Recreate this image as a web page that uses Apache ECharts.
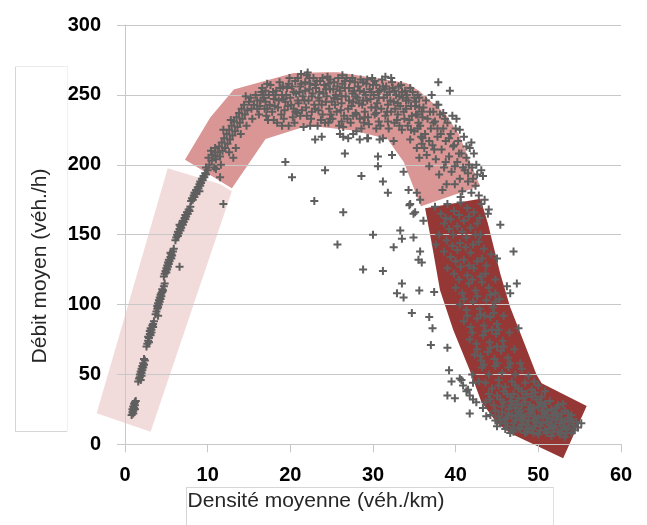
<!DOCTYPE html>
<html>
<head>
<meta charset="utf-8">
<script src="https://cdn.jsdelivr.net/npm/echarts@6/dist/echarts.min.js"></script>
<style>
  html, body { margin: 0; padding: 0; background: #fff; }
  #chart { width: 647px; height: 525px; }
</style>
</head>
<body>
<div id="chart"></div>
<script>
// axis ticks
const xTicks = [0, 10, 20, 30, 40, 50, 60]
const yTicks = [0, 50, 100, 150, 200, 250, 300]

// shaded regimes (density, flow) corners
const freeBand = [[5.17, 197.5], [13.06, 183.4], [3.1, 9.0], [-3.43, 22.2]]
const capacityBand = [
  [7.05, 203.4], [10.2, 234.4], [13.1, 254.7], [20.36, 266.6], [25.6, 267.3],
  [34.08, 259.4], [35.7, 253.5], [38.9, 236.8], [40.5, 222.5], [43.15, 184.3],
  [35.7, 169.1], [33.6, 201.3], [31.66, 217.7], [27.6, 223.7], [23.6, 226.1],
  [21.6, 226.1], [17.1, 217.7], [12.98, 181.9]
]
const congestedBand = [
  [36.3, 168.8], [43.0, 175.6], [43.9, 158], [45.4, 122], [46.6, 98], [48.0, 77],
  [49.8, 49.6], [50.4, 43.6], [55.85, 27.4], [53.0, -10], [46.6, 7.9], [45.0, 15],
  [43.1, 30.5], [41.7, 53], [39.7, 82], [38.1, 110.4], [37.1, 143.8]
]

// measurements
const freeFlow = [
  [0.8, 21], [0.9, 23], [0.9, 25], [1.0, 24], [1.0, 27], [1.1, 26], [1.1, 29], [1.2, 28], [1.2, 30], [1.3, 31], [1.0, 22], [1.2, 25],
  [1.6, 45], [1.7, 47], [1.8, 48], [1.8, 50], [1.9, 52], [2.0, 51], [2.0, 54], [2.1, 53], [2.1, 56], [2.2, 55], [2.2, 58], [2.3, 57], [2.4, 60], [2.0, 49], [1.9, 46], [2.3, 61],
  [2.6, 70], [2.7, 72], [2.8, 74], [2.8, 77], [2.9, 76], [3.0, 79], [3.0, 81], [3.1, 78], [3.1, 83], [3.2, 82], [3.3, 85], [3.4, 86], [3.5, 88], [2.9, 73], [3.2, 80], [3.4, 84],
  [3.7, 93], [3.8, 95], [3.9, 97], [3.9, 99], [4.0, 98], [4.0, 101], [4.1, 100], [4.1, 103], [4.2, 102], [4.2, 105], [4.3, 104], [4.3, 107], [4.4, 106], [4.5, 109], [4.5, 111], [4.6, 110], [4.7, 113], [4.8, 115], [4.0, 92], [4.4, 108],
  [4.7, 120], [4.8, 122], [4.9, 124], [5.0, 123], [5.0, 126], [5.1, 125], [5.1, 128], [5.2, 127], [5.2, 130], [5.3, 129], [5.3, 132], [5.4, 131], [5.5, 134], [5.6, 133], [5.6, 136], [5.7, 135], [5.8, 138], [5.9, 140], [5.5, 137], [6.6, 127],
  [6.1, 146], [6.2, 148], [6.3, 150], [6.4, 149], [6.4, 152], [6.5, 151], [6.6, 154], [6.7, 153], [6.7, 156], [6.8, 155], [6.9, 158], [7.0, 157], [7.0, 160], [7.1, 159], [7.2, 162], [7.3, 161], [7.3, 164], [7.4, 163], [7.5, 166], [7.6, 165], [7.7, 168], [7.8, 167], [7.9, 170], [6.6, 157],
  [8.0, 174], [8.1, 176], [8.2, 175], [8.3, 178], [8.4, 177], [8.5, 180], [8.6, 179], [8.6, 182], [8.7, 181], [8.8, 184], [8.9, 183], [9.0, 186], [9.1, 185], [9.1, 188], [9.2, 187], [9.3, 190], [9.4, 189], [9.5, 192], [9.6, 191], [9.7, 194], [9.8, 193], [10.0, 196], [9.0, 181], [8.4, 180],
  [11.9, 172]
]
const rising = [
  [9.8, 198], [10.2, 200], [10.5, 203], [10.1, 205], [10.8, 198], [10.6, 207], [11.0, 204], [11.2, 209], [10.9, 212], [11.5, 206], [11.4, 213], [11.8, 210], [11.7, 216], [12.1, 212],
  [12.0, 219], [12.4, 215], [12.3, 222], [12.7, 218], [12.6, 225], [13.0, 221], [12.9, 228], [13.3, 224], [13.2, 231], [13.6, 227], [13.5, 234], [13.9, 230], [13.8, 237], [14.2, 233],
  [14.1, 240], [14.5, 236], [14.4, 243], [14.8, 239], [15.0, 245], [15.3, 240], [15.2, 248], [15.6, 243], [15.8, 250], [16.0, 246], [16.3, 242], [16.5, 252], [11.0, 197], [11.6, 200],
  [12.6, 209], [13.4, 212], [14.0, 222], [14.7, 228], [15.4, 233], [13.1, 205], [10.4, 210], [11.9, 225], [12.8, 232], [14.6, 249], [16.8, 248], [17.2, 240], [17.0, 253], [11.5, 191], [10.9, 206]
]
const crown = [
  [16.2, 236], [16.6, 255], [17.0, 245], [17.4, 250], [17.8, 238], [17.6, 257], [18.0, 247], [16.9, 240], [17.3, 232], [18.3, 253],
  [18.5, 241], [18.7, 259], [19.0, 250], [19.2, 233], [19.4, 245], [19.6, 255], [19.8, 228], [19.9, 262], [18.9, 236], [19.3, 239], [20.0, 248], [18.4, 230],
  [20.2, 256], [20.4, 240], [20.5, 230], [20.7, 251], [20.9, 262], [21.0, 244], [21.2, 235], [21.3, 258], [21.5, 249], [21.6, 227], [21.8, 253], [22.0, 264], [20.8, 237], [21.9, 241], [22.1, 266],
  [22.2, 246], [22.4, 258], [22.5, 233], [22.7, 251], [22.8, 262], [23.0, 240], [23.1, 255], [23.3, 228], [23.4, 248], [23.6, 260], [23.8, 243], [23.9, 236], [22.6, 238], [23.5, 252],
  [24.1, 257], [24.2, 230], [24.4, 249], [24.5, 263], [24.7, 240], [24.8, 254], [25.0, 245], [25.1, 233], [25.3, 259], [25.5, 250], [25.6, 238], [25.8, 262], [25.9, 228], [24.9, 236], [25.4, 243],
  [26.0, 253], [26.2, 244], [26.3, 258], [26.5, 235], [26.7, 249], [26.8, 262], [27.0, 240], [27.1, 255], [27.3, 230], [27.5, 251], [27.6, 245], [27.8, 259], [27.9, 237], [26.4, 227],
  [28.1, 248], [28.2, 256], [28.4, 233], [28.5, 261], [28.7, 243], [28.9, 252], [29.0, 238], [29.2, 258], [29.3, 246], [29.5, 229], [29.6, 254], [29.8, 241], [29.9, 262], [28.6, 226],
  [30.1, 250], [30.2, 236], [30.4, 257], [30.5, 244], [30.7, 231], [30.8, 253], [31.0, 240], [31.1, 261], [31.3, 248], [31.5, 235], [31.6, 256], [31.8, 243], [31.9, 226], [31.2, 219],
  [32.0, 252], [32.2, 238], [32.3, 259], [32.5, 245], [32.6, 230], [32.8, 250], [33.0, 236], [33.1, 256], [33.3, 242], [33.5, 225], [33.6, 248], [33.8, 233], [33.9, 253],
  [34.0, 240], [34.2, 228], [34.3, 246], [34.5, 218], [34.7, 235], [34.8, 252], [35.0, 224], [35.1, 242], [35.3, 212], [35.5, 230], [35.6, 248], [35.8, 220], [35.9, 238],
  [17.5, 243], [18.2, 250], [19.1, 256], [19.7, 242], [20.3, 234], [20.6, 260], [21.1, 252], [21.4, 239], [21.7, 246], [22.3, 254], [22.9, 243], [23.2, 260], [23.7, 232], [24.0, 251],
  [24.3, 245], [24.6, 258], [25.2, 254], [25.7, 247], [26.1, 239], [26.6, 255], [26.9, 233], [27.2, 260], [27.4, 242], [27.7, 253], [28.0, 236], [28.3, 244], [28.8, 259], [29.1, 250],
  [29.4, 234], [29.7, 247], [30.0, 257], [30.3, 241], [30.6, 252], [30.9, 228], [31.4, 254], [31.7, 238], [32.1, 246], [32.4, 255], [32.7, 240], [32.9, 232], [33.2, 249], [33.4, 257],
  [33.7, 238], [34.1, 250], [34.4, 232], [34.6, 242], [35.2, 236], [35.4, 250], [16.4, 246], [17.1, 235], [18.6, 246], [19.5, 250], [20.1, 243], [21.3, 265], [22.4, 228], [24.6, 230],
  [26.3, 264], [28.9, 230], [30.4, 226], [31.5, 263], [27.0, 219], [29.3, 219], [30.8, 218],
  [16.0, 240], [16.7, 250], [17.2, 258], [17.9, 252], [18.1, 242], [18.8, 255], [19.2, 247], [19.8, 258], [20.4, 252], [20.9, 246], [21.2, 256], [21.8, 259], [22.3, 262], [22.6, 249],
  [23.0, 257], [23.5, 246], [23.9, 262], [24.3, 254], [24.8, 261], [25.3, 248], [25.7, 256], [26.2, 249], [26.6, 260], [27.1, 246], [27.5, 262], [27.9, 249], [28.4, 253], [28.8, 246],
  [29.3, 261], [29.8, 252], [30.2, 260], [30.7, 248], [31.2, 256], [31.7, 250], [32.2, 262], [32.6, 253], [33.0, 244], [33.5, 252], [34.0, 246], [34.5, 255], [35.0, 248], [35.6, 241],
  [20.6, 238], [22.0, 235], [23.4, 239], [24.8, 233], [26.2, 231], [27.6, 235], [29.0, 234], [30.4, 237], [31.8, 231], [33.2, 228], [34.6, 225], [18.0, 232], [19.0, 228], [26.0, 222], [28.0, 224]
]
const descent = [
  [35.2, 245], [35.4, 236], [35.7, 228], [35.9, 215], [36.1, 241], [36.3, 222], [36.5, 207], [36.6, 233], [36.8, 199], [37.0, 226], [37.2, 214], [37.3, 238], [36.2, 212], [35.6, 205],
  [37.5, 231], [37.6, 204], [37.8, 220], [38.0, 193], [38.1, 236], [38.3, 211], [38.5, 226], [38.6, 198], [38.8, 217], [38.9, 186], [39.0, 230], [39.2, 206], [37.9, 243], [38.4, 182],
  [39.4, 222], [39.5, 195], [39.7, 213], [39.9, 186], [40.0, 226], [40.2, 202], [40.3, 217], [40.5, 190], [40.7, 208], [40.8, 181], [41.0, 220], [41.1, 196], [39.6, 235], [40.6, 177],
  [41.3, 205], [41.5, 188], [41.7, 212], [41.9, 180], [42.0, 198], [42.2, 208], [42.4, 185], [42.6, 193], [42.8, 178], [41.6, 200],
  [37.9, 259], [39.3, 253], [37.1, 250], [37.7, 243], [38.5, 237], [40.1, 233], [40.5, 225], [41.9, 216], [41.3, 213], [43.1, 196], [42.5, 200], [43.3, 192],
  [36.0, 234], [36.4, 246], [36.9, 238], [37.3, 230], [37.8, 226], [38.2, 222], [38.7, 233], [39.2, 219], [39.8, 214], [40.4, 208], [40.9, 198], [41.5, 194], [42.1, 190],
  [36.0, 219], [37.4, 211], [38.8, 202], [39.9, 199], [36.8, 217], [35.4, 226]
]
const inner = [
  [19.4, 202], [20.2, 191], [22.9, 174], [23.0, 218], [23.8, 220], [24.2, 196], [26.4, 220], [27.6, 222], [26.6, 208], [28.6, 192], [30.6, 206], [30.6, 199], [31.2, 188], [31.8, 180],
  [32.3, 207], [32.5, 217], [28.4, 218], [29.4, 219], [26.4, 166], [25.7, 143], [30.0, 150], [33.3, 153], [33.5, 147], [34.9, 148], [32.5, 141], [33.7, 195], [34.3, 182], [35.3, 180],
  [35.7, 175], [34.5, 172], [35.1, 166], [35.7, 138], [35.5, 132], [35.9, 130], [28.8, 125], [31.2, 124], [33.5, 115], [32.9, 108], [33.7, 105], [35.6, 110], [37.4, 109], [34.7, 94],
  [36.8, 91], [37.2, 83], [37.0, 71], [39.0, 69], [39.2, 53], [39.5, 45], [39.0, 35], [39.9, 33], [40.5, 47], [40.9, 42], [41.3, 38], [41.7, 22], [42.1, 32], [42.5, 30], [43.3, 26],
  [44.2, 21], [44.8, 17], [45.4, 15], [46.0, 11], [46.6, 8], [34.4, 171], [34.9, 165], [36.1, 160], [40.7, 46], [42.1, 44], [41.5, 39], [41.7, 35], [43.7, 20]
]
const congested = [
  [37.5, 170], [38.2, 165], [39.0, 172], [39.8, 167], [40.6, 173], [41.4, 169], [42.2, 166], [38.6, 158], [39.4, 161], [40.2, 156], [41.0, 160], [41.8, 155], [42.6, 158], [38.0, 150],
  [38.9, 146], [39.7, 150], [40.5, 144], [41.3, 148], [42.1, 143], [43.0, 150], [38.6, 138], [39.4, 134], [40.2, 139], [41.0, 132], [41.8, 137], [42.6, 131], [43.4, 140], [39.0, 126],
  [39.8, 122], [40.6, 127], [41.4, 121], [42.2, 126], [43.0, 120], [43.7, 128], [44.3, 136], [37.6, 143], [42.9, 162], [44.0, 168], [43.5, 175],
  [47.0, 138], [43.9, 165], [45.4, 157], [43.1, 172], [45.0, 133], [44.8, 118], [46.2, 113], [47.4, 115], [46.6, 108], [47.6, 83], [44.8, 102],
  [40.0, 112], [40.8, 108], [41.6, 115], [42.4, 110], [43.2, 116], [44.0, 112], [44.8, 108], [40.5, 100], [41.3, 96], [42.1, 102], [42.9, 97], [43.7, 103], [44.5, 98], [45.3, 104],
  [41.0, 88], [41.8, 84], [42.6, 90], [43.4, 85], [44.2, 91], [45.0, 86], [45.8, 92], [41.7, 75], [42.5, 72], [43.3, 78], [44.1, 73], [44.9, 79], [45.7, 74], [46.5, 80],
  [42.3, 64], [43.1, 60], [43.9, 66], [44.7, 61], [45.5, 67], [46.3, 62], [47.1, 68], [47.8, 58], [43.5, 92], [45.0, 70], [44.4, 82],
  [43.2, 55], [44.0, 50], [44.8, 56], [45.6, 51], [46.4, 55], [47.2, 50], [48.0, 54], [48.8, 49], [49.5, 45], [43.6, 44], [44.4, 40], [45.2, 46], [46.0, 41], [46.8, 45], [47.6, 40],
  [48.4, 44], [49.2, 39], [50.0, 42], [50.8, 38], [44.2, 32], [45.0, 35], [45.8, 30], [46.6, 34], [47.4, 29], [48.2, 33], [49.0, 28], [49.8, 32], [50.6, 27], [51.4, 31], [52.2, 26],
  [53.0, 29], [44.8, 24], [45.6, 27], [46.4, 22], [47.2, 26], [48.0, 21], [48.8, 25], [49.6, 20], [50.4, 24], [51.2, 19], [52.0, 23], [52.8, 18], [53.6, 22], [45.4, 17], [46.2, 19],
  [47.0, 15], [47.8, 18], [48.6, 14], [49.4, 17], [50.2, 13], [51.0, 16], [51.8, 12], [52.6, 15], [53.4, 11], [54.2, 14], [46.8, 10], [47.6, 12], [48.4, 8], [49.2, 11], [50.0, 7],
  [50.8, 10], [51.6, 6], [52.4, 9], [53.2, 5], [54.0, 8], [54.8, 12], [55.2, 15], [45.0, 13], [46.0, 15], [47.4, 20], [48.2, 17], [49.0, 22], [49.8, 16], [50.6, 20], [51.4, 14],
  [52.2, 18], [53.0, 13], [53.8, 17], [48.0, 28], [49.4, 26], [50.2, 30], [51.0, 24], [46.6, 28], [47.8, 24], [45.8, 38], [47.0, 36], [48.6, 36], [43.0, 63], [42.0, 50], [42.8, 45],
  [45.2, 20], [45.6, 23], [46.0, 18], [46.4, 25], [46.8, 21], [47.2, 17], [47.6, 23], [48.0, 14], [48.4, 20], [48.8, 17], [49.2, 24], [49.6, 13], [50.0, 19], [50.4, 15], [50.8, 22],
  [51.2, 11], [51.6, 17], [52.0, 13], [52.4, 20], [52.8, 10], [53.2, 16], [53.6, 12], [54.0, 18], [54.4, 10], [46.2, 13], [47.0, 9], [47.8, 11], [48.6, 9], [49.4, 8], [50.2, 10],
  [51.0, 8], [51.8, 9], [52.6, 7], [53.4, 8], [46.8, 31], [47.6, 33], [48.4, 30], [49.2, 34], [50.0, 27], [50.8, 29], [51.6, 25], [52.4, 28], [53.2, 24], [54.0, 21], [45.4, 32],
  [46.2, 36], [47.2, 42], [48.0, 38], [44.6, 28], [45.2, 42], [44.0, 36], [43.6, 30], [49.6, 37], [50.4, 34], [51.8, 21], [52.8, 22], [53.6, 19], [54.6, 16], [47.0, 12], [48.8, 12],
  [38.8, 162], [40.4, 164], [41.6, 163], [39.2, 154], [40.8, 152], [42.4, 150], [39.6, 142], [41.2, 141], [42.8, 145], [40.0, 131], [41.6, 128], [43.2, 133], [40.4, 118], [42.0, 118],
  [43.6, 122], [41.0, 104], [42.6, 106], [44.2, 107], [41.4, 92], [43.0, 93], [44.6, 94], [42.0, 80], [43.6, 81], [45.2, 82], [42.6, 68], [44.2, 69], [45.8, 70], [43.4, 57], [45.0, 58], [46.6, 58]
]

const GRID = '#c8c8c8'
const PLUS = 'path://M3.75,0h2.5v3.75h3.75v2.5h-3.75v3.75h-2.5v-3.75h-3.75v-2.5h3.75z'

const bandSeries = (points, fill, stroke) => ({
  type: 'custom',
  z: 1,
  silent: true,
  clip: false,
  data: [points[0]],
  renderItem: (params, api) => ({
    type: 'polygon',
    shape: { points: points.map(p => api.coord(p)) },
    style: { fill: fill, stroke: stroke || 'none', lineWidth: stroke ? 2.5 : 0 }
  })
})

const chart = echarts.init(document.getElementById('chart'))

chart.setOption({
  animation: false,
  grid: { left: 125, right: 26, top: 25, bottom: 80.7 },
  xAxis: {
    type: 'value',
    min: xTicks[0],
    max: xTicks[xTicks.length - 1],
    interval: 10,
    z: 3,
    axisLine: { lineStyle: { color: GRID } },
    axisTick: { show: true, length: 8, lineStyle: { color: GRID } },
    splitLine: { show: false },
    axisLabel: { color: '#000', fontWeight: 'bold', fontSize: 20, fontFamily: 'Liberation Sans', margin: 21 }
  },
  yAxis: {
    type: 'value',
    min: yTicks[0],
    max: yTicks[yTicks.length - 1],
    interval: 50,
    z: 3,
    axisLine: { show: true, lineStyle: { color: GRID } },
    axisTick: { show: true, length: 8, lineStyle: { color: GRID } },
    splitLine: { show: true, lineStyle: { color: GRID } },
    axisLabel: { color: '#000', fontWeight: 'bold', fontSize: 20, fontFamily: 'Liberation Sans', margin: 24 }
  },
  graphic: [
    { type: 'line', shape: { x1: 15.5, y1: 66, x2: 15.5, y2: 431.5 }, style: { stroke: '#d6d6d6', lineWidth: 1 } },
    { type: 'line', shape: { x1: 15, y1: 66.5, x2: 67, y2: 66.5 }, style: { stroke: '#ececec', lineWidth: 1 } },
    { type: 'line', shape: { x1: 15, y1: 431.5, x2: 67, y2: 431.5 }, style: { stroke: '#d6d6d6', lineWidth: 1 } },
    { type: 'line', shape: { x1: 67.5, y1: 66, x2: 67.5, y2: 431.5 }, style: { stroke: '#f0f0f0', lineWidth: 1 } },
    { type: 'line', shape: { x1: 186, y1: 487.5, x2: 553, y2: 487.5 }, style: { stroke: '#d6d6d6', lineWidth: 1 } },
    { type: 'line', shape: { x1: 186.5, y1: 487, x2: 186.5, y2: 525 }, style: { stroke: '#d6d6d6', lineWidth: 1 } },
    { type: 'line', shape: { x1: 553.5, y1: 487, x2: 553.5, y2: 525 }, style: { stroke: '#e0e0e0', lineWidth: 1 } },
    {
      type: 'text', x: 40, y: 266, rotation: Math.PI / 2,
      style: { text: 'Débit moyen (véh./h)', font: '21px "Liberation Sans"', fill: '#262626', align: 'center', verticalAlign: 'middle' }
    },
    {
      type: 'text', x: 316, y: 501,
      style: { text: 'Densité moyenne (véh./km)', font: '21px "Liberation Sans"', fill: '#262626', align: 'center', verticalAlign: 'middle' }
    }
  ],
  series: [
    bandSeries(freeBand, '#f2dcdb'),
    bandSeries(capacityBand, '#d99694', '#ffffff'),
    bandSeries(congestedBand, '#953735'),
    {
      type: 'scatter',
      z: 5,
      symbol: PLUS,
      symbolSize: 8,
      itemStyle: { color: '#5f5f5f', opacity: 1 },
      data: [].concat(freeFlow, rising, crown, descent, inner, congested)
    }
  ]
})
</script>
</body>
</html>
